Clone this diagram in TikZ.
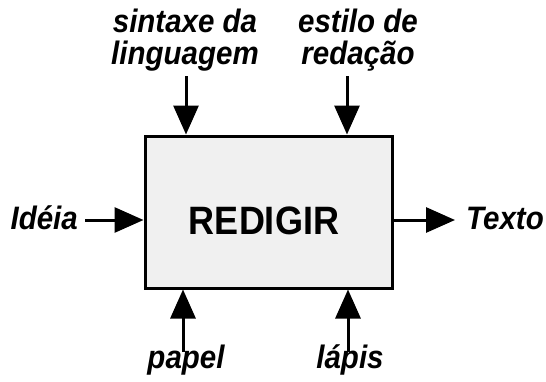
\documentclass[tikz,border=0pt]{standalone}
\usepackage{fontspec}
\usepackage{graphicx}
\setmainfont{Liberation Sans}
\usetikzlibrary{arrows.meta}
\newcommand\tallbox[1]{\scalebox{1}[1.1]{#1}}
\newcommand\twolines[2]{\tallbox{\begin{tabular}[b]{@{}c@{}}#1\\#2\end{tabular}}}
\begin{document}
\begin{tikzpicture}[x=1pt,y=-1pt,
  lbl/.style={font=\fontsize{29.5}{24.5}\selectfont\bfseries\itshape, inner sep=0pt, anchor=base},
  flow/.style={line width=3pt, -{Triangle[length=29pt,width=25pt]}},
  boxstyle/.style={draw, line width=3pt, fill=black!6, minimum width=247pt, minimum height=152pt, inner sep=0pt}]
\useasboundingbox (0,0) rectangle (546,381);
\node[boxstyle] (box) at (268.5,212) {};
\node[font=\fontsize{36}{36}\selectfont\bfseries, inner sep=0pt, anchor=base] (title) at (264,234.5) {\tallbox{REDIGIR}};
% labels
\node[lbl] (sint) at (185,64) {\twolines{sintaxe da}{linguagem}};
\node[lbl] (esti) at (358,64) {\twolines{estilo de}{redação}};
\node[lbl, anchor=base east] (idea) at (78,229) {\tallbox{Idéia}};
\node[lbl, anchor=base west] (texto) at (466,229) {\tallbox{Texto}};
\node[lbl] (papel) at (186,368) {\tallbox{papel}};
\node[lbl] (lapis) at (350,368) {\tallbox{lápis}};
% free ends
\coordinate (t1) at (186,76);
\coordinate (t2) at (347,76);
\coordinate (b1) at (183,352);
\coordinate (b2) at (348,352);
\coordinate (l1) at (85,220);
\coordinate (r1) at (455,220);
% connectors
\draw[flow] (t1) -- (t1 |- box.north);
\draw[flow] (t2) -- (t2 |- box.north);
\draw[flow] (b1) -- (b1 |- box.south);
\draw[flow] (b2) -- (b2 |- box.south);
\draw[flow] (l1) -- (l1 -| box.west);
\draw[flow] (l1 -| box.east) -- (r1);
\end{tikzpicture}
\end{document}
